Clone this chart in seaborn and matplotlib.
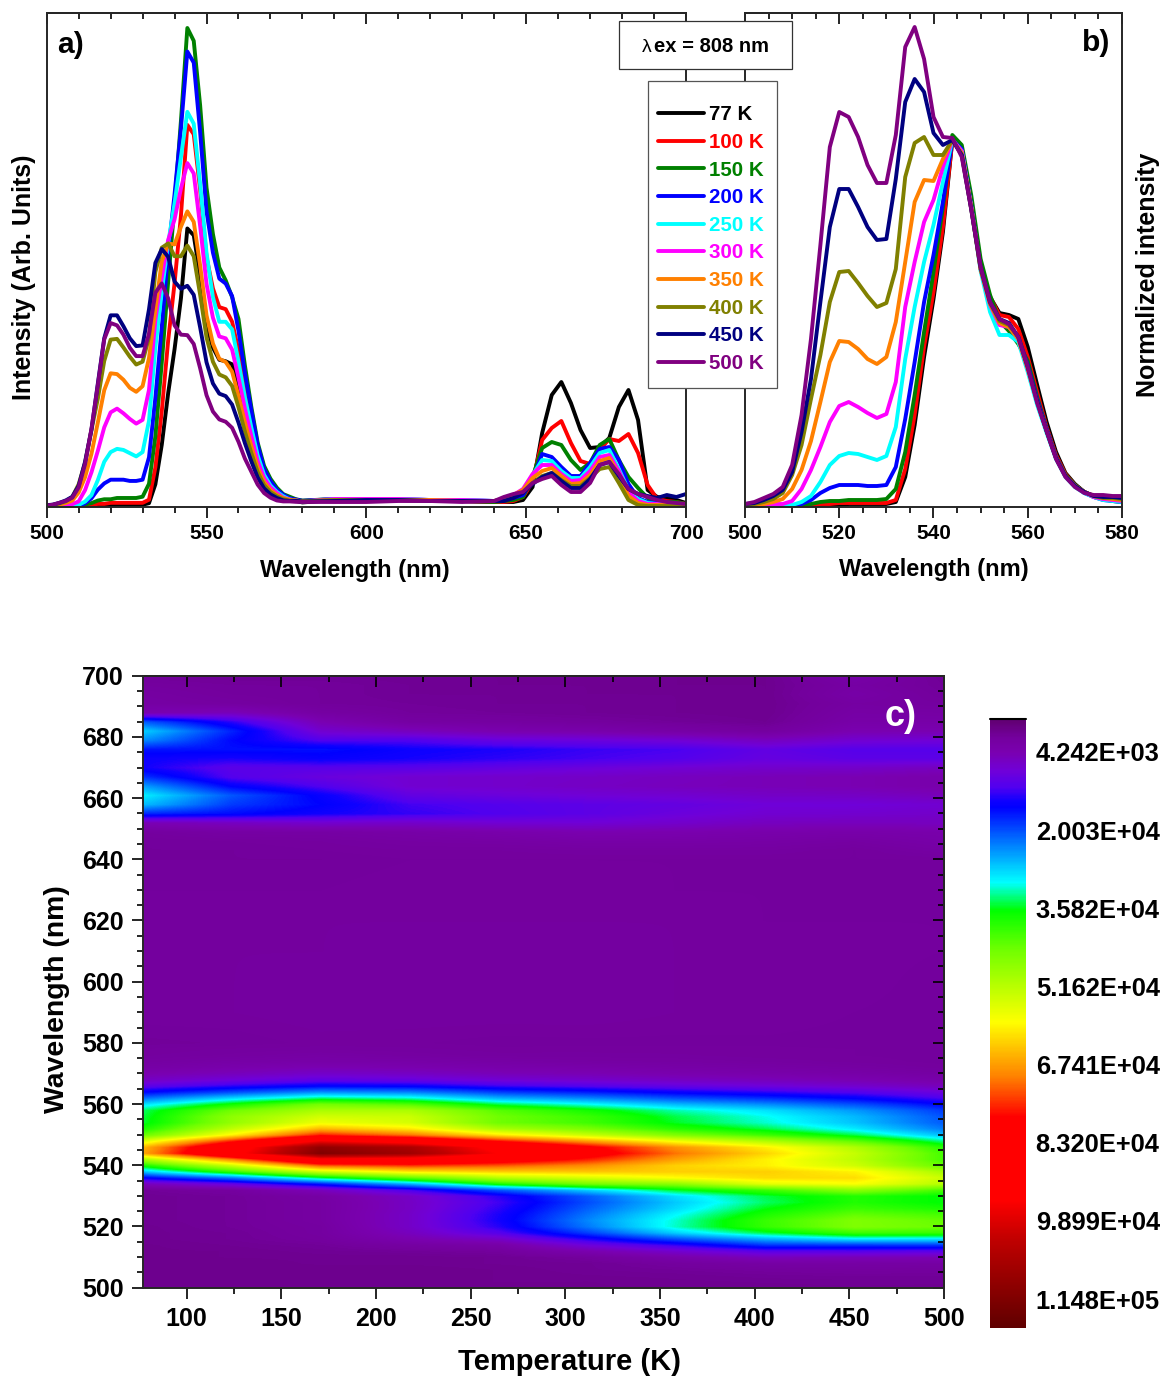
"""
Temperature dependent emission spectra: raw (a), normalized (b) and colour map (c)
"""

import matplotlib.pyplot as plt
import matplotlib.patches as patches
from matplotlib.colors import LinearSegmentedColormap, Normalize
import numpy as np
import pandas as pd
import seaborn as sns

W, H = 1164, 1378

temps = [77, 100, 150, 200, 250, 300, 350, 400, 450, 500]
temp_labels = ['77 K', '100 K', '150 K', '200 K', '250 K', '300 K', '350 K', '400 K', '450 K', '500 K']
line_colors = ['#000000', '#ff0000', '#008000', '#0000ff', '#00ffff',
               '#ff00ff', '#ff8000', '#808000', '#000080', '#800080']

# green band, normalized so the 544 nm point is about 365
wl_norm = list(range(500, 582, 2))
norm_77k = [0,0,0,0,0,1,1,1,2,2, 2,3,3,3,3,3,5,30,82,150, 208,275,367,358,305,240,210,194,192,188, 160,122,85,55,34,23,15,11,9,8,6]
norm_100k = [0,0,0,0,0,1,1,2,3,3, 4,4,4,4,4,4,7,38,92,160, 215,280,367,358,305,240,210,192,190,178, 150,115,80,52,33,22,15,11,8,7,5]
norm_150k = [0,0,0,0,1,1,2,3,5,6, 6,7,7,7,7,8,18,55,112,175, 235,300,372,362,312,248,212,186,176,163, 146,110,78,50,32,22,15,10,8,6,5]
norm_200k = [0,0,0,0,1,1,3,7,14,19, 22,22,22,21,21,22,40,88,145,205, 252,305,367,358,302,238,205,184,180,170, 142,108,78,50,31,21,14,10,7,6,5]
norm_250k = [0,1,1,1,2,2,5,11,25,42, 51,54,53,50,47,51,80,148,200,245, 282,325,367,356,300,236,195,172,172,165, 135,102,74,48,30,20,14,10,7,6,5]
norm_300k = [1,1,2,3,3,6,18,37,60,85, 101,105,100,94,89,93,125,200,245,285, 307,340,367,356,300,238,202,182,180,168, 138,105,76,49,31,21,15,10,8,7,6]
norm_350k = [1,2,3,5,8,18,37,66,105,145, 166,165,158,148,143,150,185,245,305,327, 326,348,367,354,300,238,203,184,180,168, 138,105,76,49,31,21,15,11,9,8,7]
norm_400k = [2,3,5,8,14,32,62,108,152,205, 235,236,224,211,200,204,238,330,364,370, 352,352,367,352,298,238,204,186,182,170, 140,106,76,49,31,21,15,11,9,9,8]
norm_450k = [3,4,7,11,17,35,75,128,205,280, 318,318,300,280,267,268,328,405,428,415, 374,362,367,352,298,240,205,188,184,170, 140,106,76,49,31,21,15,11,10,10,9]
norm_500k = [3,5,9,13,20,42,92,168,262,360, 395,390,370,342,324,324,372,460,480,448, 390,370,369,350,298,240,205,188,183,170, 140,104,76,48,30,20,14,12,12,11,11]

# height of each raw spectrum at 544 nm
peak_544 = [277, 380, 470, 453, 393, 342, 294, 260, 220, 170]

# red band of the raw spectra
wl_tail = [590, 600, 610, 620, 630, 640] + list(range(643, 703, 3))
tail_77k = [7,7,7,7,6,5, 5,5,7,20,74,112,125,104,77,59,60,69,100,117,87,17,10,9,7,4]
tail_100k = [7,7,7,7,6,5, 5,6,10,25,67,79,86,64,46,43,57,68,66,73,54,22,8,6,5,3]
tail_150k = [8,8,7,7,6,5, 6,7,10,30,59,65,62,47,37,44,62,68,47,30,19,9,5,5,5,3]
tail_200k = [8,8,8,7,7,6, 7,9,12,28,53,50,40,31,31,44,58,60,47,23,9,5,4,3,3,2]
tail_250k = [8,8,8,7,7,6, 7,10,15,32,47,46,36,29,29,40,54,57,38,17,8,4,3,3,2,2]
tail_300k = [8,8,8,7,7,6, 8,12,18,33,42,42,33,26,27,36,50,52,36,15,6,3,3,2,2,2]
tail_350k = [7,7,7,7,6,6, 8,12,17,29,36,39,31,23,24,32,46,49,32,11,4,2,2,2,1,1]
tail_400k = [7,7,7,6,6,6, 8,11,15,24,31,34,27,21,21,29,38,40,24,7,2,1,1,1,1,1]
tail_450k = [6,7,7,6,6,6, 6,9,14,23,30,34,26,19,19,28,42,45,31,18,13,11,9,12,10,13]
tail_500k = [5,5,6,6,5,6, 10,13,15,24,28,31,22,15,15,24,42,45,33,18,13,10,7,5,4,3]

counts_per_unit = 114800 / 480
cbar_ticks = [4242, 20030, 35820, 51620, 67410, 83200, 98990, 114800]
cbar_labels = ['4.242E+03', '2.003E+04', '3.582E+04', '5.162E+04',
               '6.741E+04', '8.320E+04', '9.899E+04', '1.148E+05']
cbar_min, cbar_max = -2404, 120640
cbar_colors = [(0.0, '#600070'), (0.03, '#74009e'), (0.054, '#7a00b0'), (0.084, '#7000d8'),
               (0.112, '#5000f0'), (0.133, '#1000ff'), (0.1445, '#0000ff'),
               (0.268, '#00ffff'), (0.314, '#00ff00'), (0.379, '#70ff00'), (0.4975, '#ffff00'),
               (0.588, '#ff8000'), (0.6535, '#ff0000'), (0.79, '#ff0000'), (0.855, '#c00000'),
               (1.0, '#600000')]

norm_spectra = [norm_77k, norm_100k, norm_150k, norm_200k, norm_250k,
                norm_300k, norm_350k, norm_400k, norm_450k, norm_500k]
tail_spectra = [tail_77k, tail_100k, tail_150k, tail_200k, tail_250k,
                tail_300k, tail_350k, tail_400k, tail_450k, tail_500k]
wl_full = wl_norm + wl_tail
raw_spectra = [np.concatenate([np.array(n) * p / 365, t])
               for n, p, t in zip(norm_spectra, peak_544, tail_spectra)]

raw_df = pd.concat([pd.DataFrame({'wl': wl_full, 'y': r, 'T': lab})
                    for r, lab in zip(raw_spectra, temp_labels)])
norm_df = pd.concat([pd.DataFrame({'wl': wl_norm, 'y': n, 'T': lab})
                     for n, lab in zip(norm_spectra, temp_labels)])

sns.set_theme(style='ticks')
plt.rcParams['font.family'] = ['Liberation Sans', 'DejaVu Sans']
plt.rcParams['font.weight'] = 'bold'
plt.rcParams['axes.labelweight'] = 'bold'
plt.rcParams['axes.linewidth'] = 1.4
plt.rcParams['text.color'] = 'black'
plt.rcParams['axes.labelcolor'] = 'black'
plt.rcParams['xtick.color'] = 'black'
plt.rcParams['ytick.color'] = 'black'


def px_axes(fig, x0, y0, x1, y1):
    return fig.add_axes([x0 / W, 1 - y1 / H, (x1 - x0) / W, (y1 - y0) / H])


def set_ticks(axis, major, minor, size=15, pad=4):
    axis.set_ticks(major)
    axis.set_ticks(minor, minor=True)
    axis.set_tick_params(which='major', length=8, width=1.2, labelsize=size, pad=pad)
    axis.set_tick_params(which='minor', length=4, width=1.2)


def box_ticks(ax, xmajor, xminor, ymajor=None, yminor=None, size=15, pad=4):
    """Outward ticks on bottom and left, inward mirror on top and right"""
    set_ticks(ax.xaxis, xmajor, xminor, size=size, pad=pad)
    top = ax.secondary_xaxis('top')
    set_ticks(top.xaxis, xmajor, xminor)
    top.xaxis.set_tick_params(which='both', direction='in', labeltop=False)
    if ymajor is None:
        ax.set_yticks([])
        return
    set_ticks(ax.yaxis, ymajor, yminor, size=size, pad=pad)
    right = ax.secondary_yaxis('right')
    set_ticks(right.yaxis, ymajor, yminor)
    right.yaxis.set_tick_params(which='both', direction='in', labelright=False)


def px_label(axis, fig, text, x, y, size, rotation=0):
    axis.set_label_text(text, fontsize=size, rotation=rotation, va='center', ha='center')
    axis.set_label_coords(x / W, 1 - y / H, transform=fig.transFigure)


fig = plt.figure(figsize=(W / 100, H / 100), dpi=100)

# Panel a: raw spectra
ax_a = px_axes(fig, 46.7, 13, 686, 507)
sns.lineplot(data=raw_df, x='wl', y='y', hue='T', hue_order=temp_labels, palette=line_colors,
             estimator=None, sort=False, linewidth=2.8, ax=ax_a)
handles, labels = ax_a.get_legend_handles_labels()
ax_a.get_legend().remove()
ax_a.set_xlim(500, 700)
ax_a.set_ylim(0, 494)
box_ticks(ax_a, range(500, 701, 50), range(500, 701, 10))
px_label(ax_a.xaxis, fig, 'Wavelength (nm)', 355, 571, 17)
px_label(ax_a.yaxis, fig, 'Intensity (Arb. Units)', 24, 277, 18, rotation=90)

# Panel b: normalized spectra
ax_b = px_axes(fig, 745, 13, 1122, 507)
sns.lineplot(data=norm_df, x='wl', y='y', hue='T', hue_order=temp_labels, palette=line_colors,
             estimator=None, sort=False, linewidth=2.8, legend=False, ax=ax_b)
ax_b.set_xlim(500, 580)
ax_b.set_ylim(0, 494)
box_ticks(ax_b, range(500, 581, 20), range(500, 581, 5))
px_label(ax_b.xaxis, fig, 'Wavelength (nm)', 934, 570, 17)
px_label(ax_b.yaxis, fig, 'Normalized intensity', 1148, 275, 18, rotation=90)

# Panel c: the source software spaces the spectra evenly along the temperature axis,
# rows are put on a 1 nm grid only so imshow can blend them
ax_c = px_axes(fig, 143.2, 675.7, 944, 1287.7)
cmap = LinearSegmentedColormap.from_list('origin_rainbow', cbar_colors, N=512)
color_norm = Normalize(cbar_min, cbar_max)
wl_grid = np.arange(500, 701)
Z = np.array([np.interp(wl_grid, wl_full, r) for r in raw_spectra]).T * counts_per_unit
t_step = (500 - 77) / (len(temps) - 1)
mesh = ax_c.imshow(Z, origin='lower', aspect='auto', interpolation='bilinear', cmap=cmap, norm=color_norm,
                   extent=[77 - t_step / 2, 500 + t_step / 2, 499.5, 700.5])
ax_c.set_xlim(77, 500)
ax_c.set_ylim(500, 700)
box_ticks(ax_c, range(100, 501, 50), range(125, 500, 50),
          range(500, 701, 20), range(500, 701, 5), size=18, pad=6)
px_label(ax_c.xaxis, fig, 'Temperature (K)', 570, 1362, 21)
px_label(ax_c.yaxis, fig, 'Wavelength (nm)', 57, 999, 20.4, rotation=90)

# Colour scale, low values on top
cax = px_axes(fig, 990, 719, 1026, 1328)
cbar = fig.colorbar(mesh, cax=cax)
cax.invert_yaxis()
cbar.outline.set_visible(False)
cbar.set_ticks(cbar_ticks, labels=cbar_labels)
cax.tick_params(length=0, labelsize=18.4, pad=7)
cax.axhline(cbar_min, color='black', linewidth=1.5, clip_on=False)

# Panel letters
fig.text(57 / W, 1 - 45 / H, 'a)', fontsize=21.6, va='center')
fig.text(1082 / W, 1 - 43 / H, 'b)', fontsize=21.6, va='center')
fig.text(885 / W, 1 - 717 / H, 'c)', fontsize=26, color='white', va='center')

# Excitation box and legend sit on top of the gap between panels a and b
fig.add_artist(patches.Rectangle((619 / W, 1 - 69 / H), 173 / W, 48 / H, transform=fig.transFigure,
                                 facecolor='white', edgecolor='#333333', linewidth=0.9, zorder=4))
fig.text(642 / W, 1 - 47 / H, 'λ', fontsize=14, fontweight='normal', va='center', zorder=6)
fig.text(654 / W, 1 - 47 / H, 'ex = 808 nm', fontsize=14.5, va='center', zorder=6)
fig.add_artist(patches.Rectangle((648 / W, 1 - 388 / H), 129 / W, 307 / H, transform=fig.transFigure,
                                 facecolor='white', edgecolor='#555555', linewidth=0.9, zorder=4))
fig.legend(handles, labels, loc='upper left', bbox_to_anchor=(648 / W, 1 - 95 / H),
           bbox_transform=fig.transFigure, frameon=False, fontsize=14.8, labelcolor='linecolor',
           borderaxespad=0, borderpad=0.5, handlelength=2.24, handletextpad=0.25, labelspacing=0.42)

fig.savefig('out.png', dpi=100)
plt.close(fig)
